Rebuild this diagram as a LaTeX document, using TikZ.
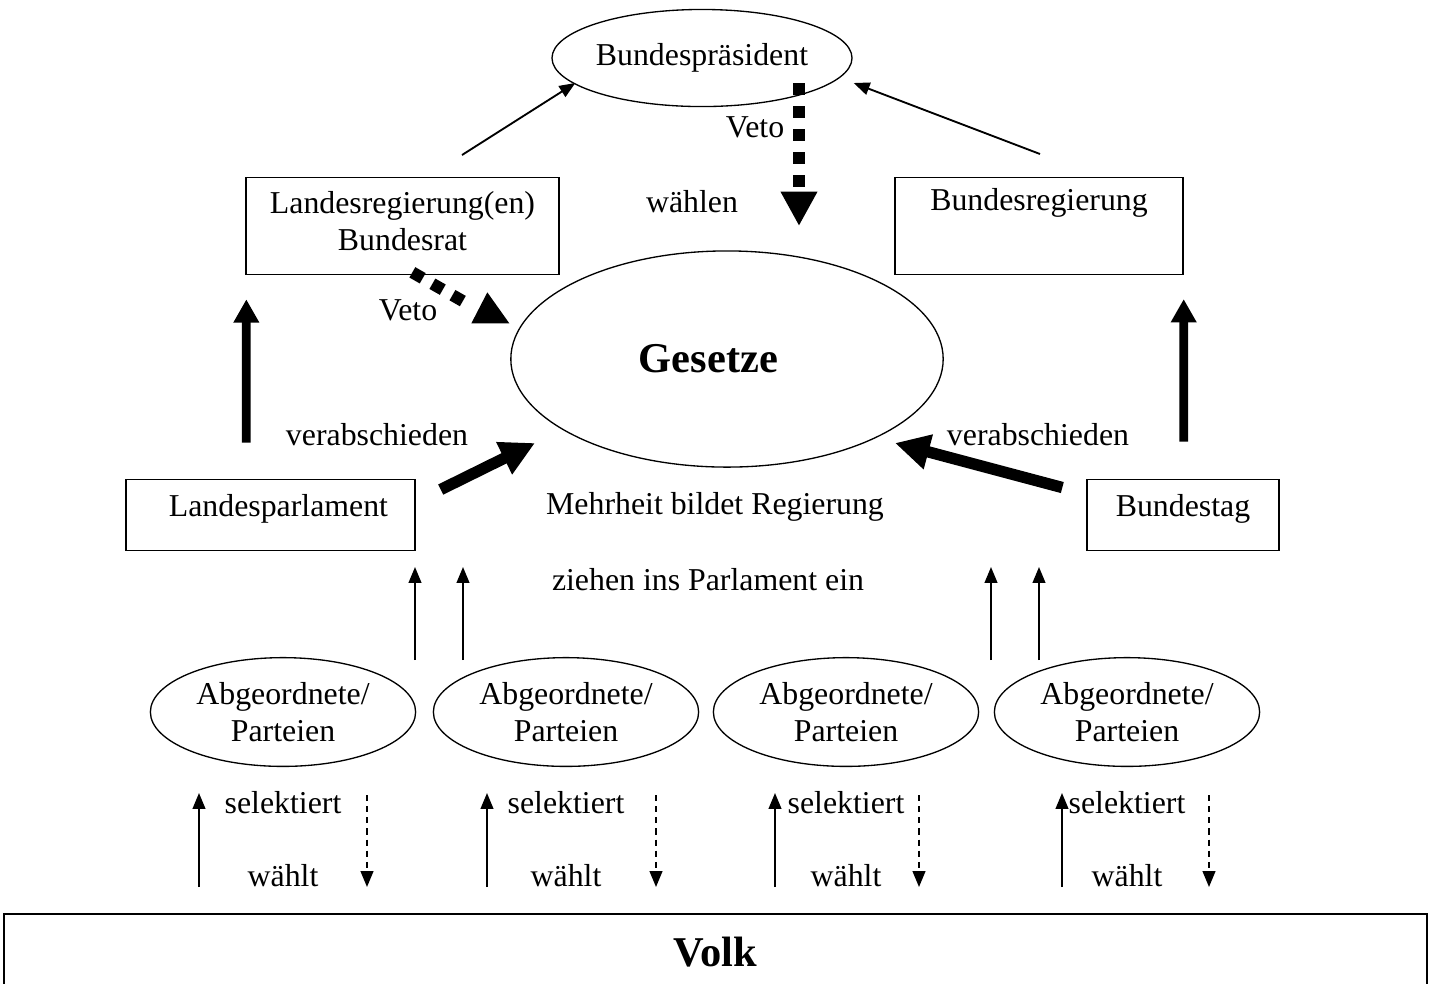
\documentclass[tikz,border=0pt]{standalone}
\usepackage{fontspec}
\setmainfont{Liberation Serif}
\usetikzlibrary{arrows.meta,shapes.geometric,calc,positioning}

\begin{document}
\begin{tikzpicture}[x=0.377pt, y=-0.377pt, font=\fontsize{12pt}{13.8pt}\selectfont]
        \tikzstyle{oval} = [draw, ellipse, line width=0.5pt, inner sep=0pt];
        \tikzstyle{kasten} = [draw, rectangle, line width=0.5pt, inner sep=3pt];
        \tikzstyle{gross} = [font=\fontsize{16pt}{19pt}\selectfont\bfseries];
        \tikzstyle{pfeil} = [line width=0.7pt, -{Triangle[width=4.8pt,length=6pt]}];
        \tikzstyle{wahlpfeil} = [pfeil, dash pattern=on 2.3pt off 1.9pt];
        \tikzstyle{hochpfeil} = [line width=3.3pt, -{Triangle[width=9.2pt,length=8.8pt]}];
        \tikzstyle{dickpfeil} = [line width=4.3pt, -{Triangle[width=12.7pt,length=13pt]}];
        \tikzstyle{vetopfeil} = [line width=4.5pt, dash pattern=on 4.5pt off 4.2pt, -{Triangle[width=13pt,length=13pt]}];
        \tikzstyle{vetolinie} = [line width=4.5pt, dash pattern=on 4.5pt off 4.2pt];

        \useasboundingbox (0,0) rectangle (1431,983);

        % Bund oben
        \node [oval, minimum width=109pt, minimum height=36.6pt] (bp) at (702,58) {Bundespräsident};
        \node [oval, gross, minimum width=163pt, minimum height=81.5pt] (ge) at (727,359) {\hspace*{-14pt}Gesetze};
        \node [kasten, minimum width=118pt, inner ysep=2.5pt, text height=11.2pt, text depth=20.5pt] (lr) at (402.5,226)
            {\begin{tabular}[t]{@{}c@{}}Landesregierung(en)\\Bundesrat\end{tabular}};
        \node [kasten, minimum width=108.6pt, text height=9.5pt, text depth=21pt] (br) at (1039,226) {Bundesregierung};
        \node [kasten, minimum width=109pt, text height=11pt, text depth=10pt] (lp) at (270.5,515) {\hspace*{6pt}Landesparlament};
        \node [kasten, minimum width=72.4pt, text height=11pt, text depth=10pt] (bt) at (1183,515) {Bundestag};
        \node [kasten, gross, line width=0.8pt, minimum width=536.5pt, minimum height=28.7pt] (volk) at (715.5,952) {Volk};

        \node (waehlen) at (692,202) {wählen};
        \node (vetob) at (755,127) {Veto};
        \node (vetol) at (408,310) {Veto};
        \node (verabl) at (377,435) {verabschieden};
        \node (verabr) at (1038,435) {verabschieden};
        \node (mehrheit) at (715,507) {Mehrheit bildet Regierung};
        \node (ziehen) at (708,580) {ziehen ins Parlament ein};

        % wählen
        \coordinate (lrw) at (462,155);
        \coordinate (brw) at (1040,154);
        \draw [pfeil] (lrw) -- ($(bp.west)+(24,25)$);
        \draw [pfeil] (brw) -- ($(bp.east)+(1,25)$);

        % Veto
        \draw [vetopfeil] ($(bp.center)+(97,25)$) -- ($(bp.center)+(97,168)$);
        \draw [vetolinie] ($(lr.south west)+(167,-3)$) coordinate (vl) -- ++(58,33);
        \fill ($(vl)+(59,51)$) -- ++(38,0) -- ++(-22,-31) -- cycle;

        % verabschieden
        \draw [hochpfeil] ($(lp.north west)+(121,-36)$) -- ($(lr.south west)+(1,24)$);
        \draw [hochpfeil] ($(bt.north east)+(-96,-37)$) -- ($(br.south east)+(0,24)$);
        \draw [dickpfeil] ($(lp.north east)+(25,11)$) -- ($(ge.center)+(-192,84)$);
        \draw [dickpfeil] ($(bt.north west)+(-24,9)$) -- ($(ge.center)+(168,84)$);

        % ziehen ins Parlament ein
        \foreach \x in {415,463} \draw [pfeil] (\x,660) -- (\x,567);
        \foreach \x in {991,1039} \draw [pfeil] (\x,660) -- (\x,567);

        % Volk
        \foreach \u/\s/\d [count=\i] in {199/283/367, 487/566/656, 775/846/919, 1062/1127/1209} {
            \node [oval, align=center, minimum width=100pt, minimum height=41pt] (ap\i) at (\s,712) {Abgeordnete/\\Parteien};
            \node (sel\i) at (\s,803) {selektiert};
            \node (wae\i) at (\s,876) {wählt};
            \coordinate (vu\i) at (\u,887);
            \coordinate (vd\i) at (\d,795);
            \draw [pfeil] (vu\i) -- ++(0,-94);
            \draw [wahlpfeil] (vd\i) -- ++(0,92);
        }
\end{tikzpicture}
\end{document}
